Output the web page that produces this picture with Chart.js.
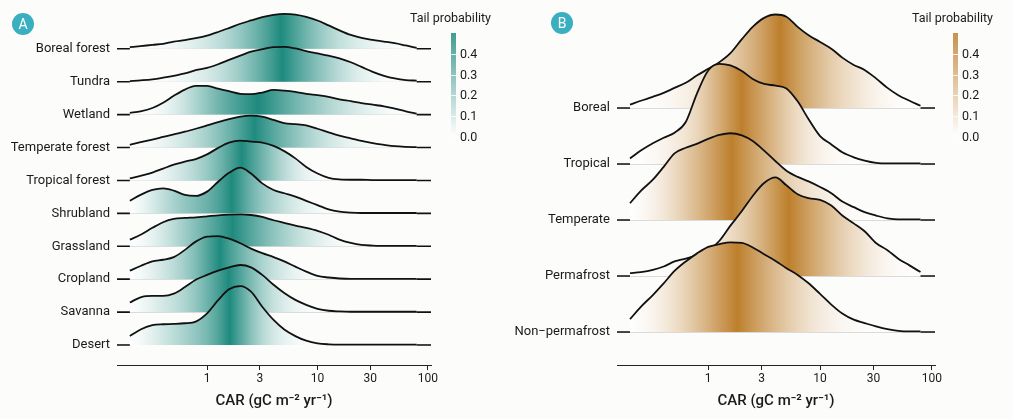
<!DOCTYPE html>
<html lang="en">
<head>
  <meta charset="UTF-8" />
  <title>CAR ridgelines</title>
  <script src="https://cdn.jsdelivr.net/npm/chart.js"></script>
  <style>
    html, body { margin: 0; padding: 0; background: #fcfcfa; }
    body { width: 1013px; height: 419px; position: relative; overflow: hidden;
           font-family: Roboto, 'Noto Sans', sans-serif; color: #1a1a1a; }
    .panel { position: absolute; top: 0; height: 419px; }
    .badge { position: absolute; width: 22px; height: 22px; border-radius: 50%;
             background: #3aafc0; color: #fff; font-size: 14px; line-height: 22px;
             text-align: center; }
    .ltitle { position: absolute; top: 10px; font-size: 12.5px; white-space: nowrap; }
    .lbar { position: absolute; top: 33px; width: 5px; height: 104px; }
    .lnotch { position: absolute; width: 5px; height: 1px; background: rgba(255,255,255,0.8); }
    .llab { position: absolute; font-size: 12.5px; line-height: 14px; }
  </style>
</head>
<body>
  <div class="panel" style="left:0;width:500px"><canvas id="chartA"></canvas></div>
  <div class="panel" style="left:500px;width:513px"><canvas id="chartB"></canvas></div>
  <div class="badge" style="left:12px;top:13px">A</div>
  <div class="badge" style="left:551px;top:12px">B</div>
  <div id="legendA"></div>
  <div id="legendB"></div>

  <script>
    // shared CAR grid (gC m-2 yr-1) the ridges are read at
    const carGrid = [0.2,0.25,0.32,0.4,0.5,0.63,0.79,1,1.26,1.58,2,2.5,3.16,4,5,6.3,7.9,10,12.6,15.8,20,25,31.6,40,50,63,79];
    const xTicks = [1, 3, 10, 30, 100];
    const legendTicks = [0.0, 0.1, 0.2, 0.3, 0.4];

    // panel A: ecosystems (top to bottom), ridge heights in row units
    const ecosystems = ['Boreal forest','Tundra','Wetland','Temperate forest','Tropical forest','Shrubland','Grassland','Cropland','Savanna','Desert'];
    const borealForest    = [0.05,0.08,0.12,0.15,0.22,0.26,0.32,0.40,0.51,0.63,0.76,0.86,0.96,1.03,1.06,1.04,0.97,0.86,0.71,0.56,0.42,0.33,0.27,0.22,0.17,0.10,0.03];
    const tundra          = [0.02,0.04,0.07,0.12,0.18,0.25,0.35,0.42,0.53,0.66,0.79,0.91,0.99,1.05,1.06,1.01,0.93,0.86,0.79,0.71,0.59,0.45,0.30,0.18,0.10,0.05,0.03];
    const wetland         = [0.05,0.10,0.20,0.36,0.57,0.76,0.87,0.87,0.79,0.71,0.63,0.62,0.67,0.75,0.73,0.69,0.63,0.59,0.54,0.46,0.41,0.35,0.30,0.25,0.18,0.10,0.03];
    const temperateForest = [0.08,0.16,0.24,0.32,0.40,0.48,0.57,0.67,0.77,0.86,0.94,0.97,0.94,0.84,0.74,0.71,0.67,0.57,0.46,0.36,0.28,0.20,0.13,0.08,0.04,0.02,0.01];
    const tropicalForest  = [0.06,0.14,0.24,0.36,0.48,0.57,0.65,0.79,0.99,1.15,1.21,1.18,1.15,1.05,0.89,0.67,0.41,0.21,0.08,0.03,0.02,0.02,0.01,0.01,0.01,0.01,0.01];
    const shrubland       = [0.38,0.56,0.71,0.76,0.69,0.56,0.53,0.66,0.96,1.23,1.39,1.21,0.91,0.71,0.61,0.51,0.38,0.25,0.12,0.05,0.02,0.01,0.01,0.01,0.01,0.01,0.01];
    const grassland       = [0.20,0.35,0.56,0.73,0.83,0.86,0.88,0.91,0.94,0.96,0.97,0.95,0.89,0.79,0.71,0.63,0.56,0.47,0.35,0.20,0.10,0.04,0.02,0.01,0.01,0.01,0.01];
    const cropland        = [0.26,0.40,0.54,0.59,0.67,0.89,1.14,1.29,1.31,1.23,1.09,0.93,0.79,0.67,0.54,0.38,0.23,0.10,0.05,0.02,0.01,0.01,0.01,0.01,0.01,0.01,0.01];
    const savanna         = [0.29,0.45,0.49,0.49,0.56,0.76,0.98,1.13,1.26,1.36,1.43,1.36,1.13,0.83,0.58,0.37,0.22,0.10,0.04,0.02,0.01,0.01,0.01,0.01,0.01,0.01,0.01];
    const desert          = [0.27,0.47,0.60,0.63,0.64,0.66,0.71,0.96,1.36,1.69,1.79,1.62,1.16,0.76,0.47,0.27,0.13,0.05,0.02,0.01,0.01,0.01,0.01,0.01,0.01,0.01,0.01];

    // panel B: climate zones (top to bottom)
    const zones = ['Boreal','Tropical','Temperate','Permafrost','Non\u2212permafrost'];
    const boreal        = [0.06,0.13,0.20,0.27,0.36,0.45,0.58,0.70,0.82,0.98,1.23,1.45,1.61,1.67,1.63,1.45,1.30,1.18,1.06,0.90,0.77,0.68,0.53,0.36,0.23,0.13,0.04];
    const tropical      = [0.10,0.24,0.37,0.47,0.56,0.75,1.25,1.67,1.79,1.76,1.66,1.52,1.43,1.40,1.35,1.12,0.80,0.50,0.35,0.21,0.12,0.06,0.02,0.01,0.01,0.01,0.01];
    const temperate     = [0.30,0.52,0.72,0.95,1.19,1.29,1.36,1.45,1.52,1.55,1.51,1.41,1.24,1.05,0.88,0.77,0.69,0.59,0.48,0.33,0.23,0.14,0.08,0.03,0.01,0.01,0.01];
    const permafrost    = [0.05,0.07,0.11,0.17,0.26,0.31,0.37,0.45,0.63,0.90,1.16,1.43,1.66,1.76,1.62,1.46,1.39,1.36,1.26,1.08,0.94,0.80,0.59,0.46,0.31,0.19,0.07];
    const nonPermafrost = [0.23,0.45,0.66,0.87,1.09,1.26,1.40,1.52,1.57,1.60,1.59,1.51,1.39,1.27,1.14,1.02,0.87,0.68,0.49,0.33,0.22,0.16,0.10,0.05,0.02,0.01,0.01];

    const TEAL = [31, 138, 126];
    const BROWN = [189, 127, 44];

    function mix(rgb, t) {
      const c = rgb.map(v => Math.round(255 + (v - 255) * t));
      return `rgb(${c[0]},${c[1]},${c[2]})`;
    }

    // horizontal gradient: colour follows tail probability min(F, 1-F)
    function tailGradient(chart, h, rgb) {
      if (!chart.chartArea) return 'rgba(0,0,0,0)';
      const x = chart.scales.x;
      const px = carGrid.map(v => x.getPixelForValue(v));
      const p0 = px[0], p1 = px[px.length - 1];
      const cum = [0];
      for (let i = 1; i < h.length; i++) {
        const dx = Math.log10(carGrid[i]) - Math.log10(carGrid[i - 1]);
        cum.push(cum[i - 1] + dx * (h[i - 1] + h[i]) / 2);
      }
      const F = cum.map(c => c / cum[cum.length - 1]);
      const g = chart.ctx.createLinearGradient(p0, 0, p1, 0);
      for (let i = 0; i < F.length; i++) {
        const tail = Math.min(F[i], 1 - F[i]);
        g.addColorStop((px[i] - p0) / (p1 - p0), mix(rgb, tail / 0.5));
        if (i < F.length - 1 && F[i] < 0.5 && F[i + 1] >= 0.5) {
          const t = (0.5 - F[i]) / (F[i + 1] - F[i]);
          const pm = px[i] + t * (px[i + 1] - px[i]);
          g.addColorStop((pm - p0) / (p1 - p0), mix(rgb, 1));
        }
      }
      return g;
    }

    // short black stubs at both ends of every baseline
    const rowStubs = {
      id: 'rowStubs',
      afterDatasetsDraw(chart) {
        const {ctx, chartArea, scales: {x, y}} = chart;
        const a = x.getPixelForValue(carGrid[0]);
        const b = x.getPixelForValue(carGrid[carGrid.length - 1]);
        ctx.save();
        ctx.strokeStyle = '#111';
        ctx.lineWidth = 1.6;
        y.ticks.forEach(t => {
          const py = y.getPixelForValue(t.value);
          ctx.beginPath();
          ctx.moveTo(chartArea.left, py); ctx.lineTo(a, py);
          ctx.moveTo(b, py); ctx.lineTo(chartArea.right, py);
          ctx.stroke();
        });
        ctx.restore();
      }
    };

    function makeChart(id, names, series, rgb, yMin, yMax, padRight) {
      const n = names.length;
      // bottom row first so that lower ridges are painted over upper ones
      const datasets = [];
      for (let r = 0; r < n; r++) {
        const idx = n - 1 - r;
        const h = series[idx];
        datasets.push({
          label: names[idx],
          data: carGrid.map((v, i) => ({ x: v, y: r + h[i] })),
          borderColor: '#111',
          borderWidth: 1.8,
          pointRadius: 0,
          clip: false,
          cubicInterpolationMode: 'monotone',
          fill: { value: r },
          backgroundColor: ctx => tailGradient(ctx.chart, h, rgb)
        });
      }
      return new Chart(document.getElementById(id), {
        type: 'line',
        data: { datasets },
        options: {
          responsive: true,
          maintainAspectRatio: false,
          animation: false,
          layout: { padding: { left: 0, right: padRight, top: 5, bottom: 0 } },
          plugins: { legend: { display: false }, tooltip: { enabled: false } },
          scales: {
            x: {
              type: 'logarithmic',
              min: 0.153, max: 106.5,
              afterBuildTicks: s => { s.ticks = xTicks.map(v => ({ value: v })); },
              afterFit: s => { s.height = 54; s.paddingLeft = 0; s.paddingRight = 0; },
              ticks: { callback: v => String(v), autoSkip: false, maxRotation: 0, padding: 2,
                       color: '#1a1a1a', font: { family: 'Roboto', size: 12 } },
              grid: { drawOnChartArea: false, tickLength: 5, tickColor: '#222' },
              border: { color: '#222', width: 1 },
              title: { display: true, text: 'CAR (gC m\u207B\u00B2 yr\u207B\u00B9)', color: '#1a1a1a',
                       font: { family: 'Roboto', size: 15, weight: '500' }, padding: { top: 0, bottom: 9 } }
            },
            y: {
              type: 'linear',
              min: yMin, max: yMax,
              afterBuildTicks: s => { s.ticks = names.map((_, r) => ({ value: r })); },
              afterFit: s => { s.width = 117; s.paddingTop = 0; s.paddingBottom = 0; },
              ticks: { callback: v => names[n - 1 - v], padding: 7, color: '#1a1a1a',
                       font: { family: 'Roboto', size: 13 } },
              grid: { color: '#dadada', lineWidth: 1, drawTicks: false },
              border: { display: false }
            }
          }
        },
        plugins: [rowStubs]
      });
    }

    function makeLegend(id, left, rgb) {
      const box = document.getElementById(id);
      let html = `<div class="ltitle" style="left:${left}px">Tail probability</div>`;
      html += `<div class="lbar" style="left:${left + 41}px;background:linear-gradient(to top, ${mix(rgb, 0)}, ${mix(rgb, 0.85)})"></div>`;
      legendTicks.forEach(v => {
        const y = 137 - v * 208;
        if (v > 0) html += `<div class="lnotch" style="left:${left + 41}px;top:${y}px"></div>`;
        html += `<div class="llab" style="left:${left + 50}px;top:${y - 7}px">${v.toFixed(1)}</div>`;
      });
      box.innerHTML = html;
    }

    makeChart('chartA', ecosystems,
      [borealForest, tundra, wetland, temperateForest, tropicalForest, shrubland, grassland, cropland, savanna, desert],
      TEAL, -0.608, 10.33, 69);
    makeChart('chartB', zones, [boreal, tropical, temperate, permafrost, nonPermafrost],
      BROWN, -0.589, 5.84, 78);
    makeLegend('legendA', 410, TEAL);
    makeLegend('legendB', 912, BROWN);
  </script>
</body>
</html>
